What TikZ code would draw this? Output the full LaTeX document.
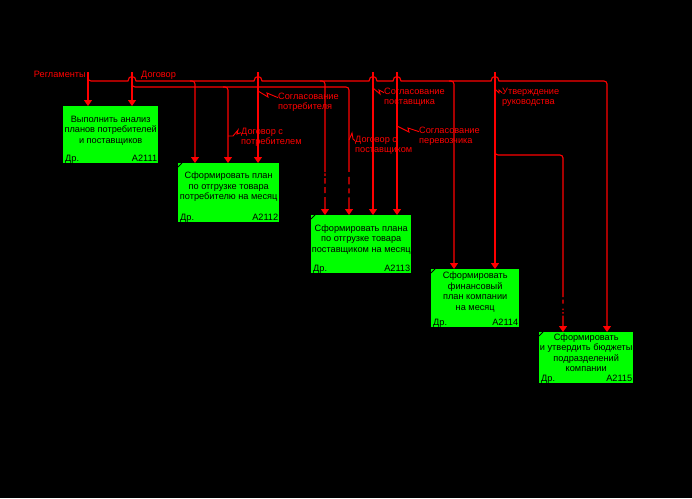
\documentclass[tikz,border=0pt]{standalone}
\usepackage{fontspec}
\setmainfont{Liberation Sans}
\usepackage{tikz}
\usetikzlibrary{arrows.meta,calc,positioning}
\definecolor{funcgreen}{RGB}{0,255,0}

\begin{document}
\begin{tikzpicture}[x=1pt,y=-1pt,
  func/.style={fill=funcgreen,inner sep=0,anchor=north west},
  ftext/.style={text=black,align=center,inner sep=0,font=\fontsize{9.2}{10.5}\selectfont},
  foot/.style={text=black,inner sep=0,font=\fontsize{9.2}{10.5}\selectfont},
  lbl/.style={text=red,align=left,inner sep=0,font=\fontsize{9.2}{10}\selectfont},
  ctl/.style={draw=red,line width=1.1pt,-{Triangle[width=8pt,length=6pt]}},
  squig/.style={draw=red,line width=0.9pt},
  corner/.style={draw=black,line width=0.8pt}]
\fill[black] (0,0) rectangle (692,498);

\node[func,minimum width=95pt,minimum height=57pt] (b1) at (63,106) {};
\node[func,minimum width=101pt,minimum height=59pt] (b2) at (178,163) {};
\node[func,minimum width=100pt,minimum height=58pt] (b3) at (311,215) {};
\node[func,minimum width=88pt,minimum height=58pt] (b4) at (431,269) {};
\node[func,minimum width=94pt,minimum height=51pt] (b5) at (539,332) {};

\node[ftext] (t1) at ([yshift=4pt]b1.center) {Выполнить анализ\\планов потребителей\\и поставщиков};
\node[ftext] (t2) at ([yshift=6pt]b2.center) {Сформировать план\\по отгрузке товара\\потребителю на месяц};
\node[ftext] (t3) at ([yshift=5pt]b3.center) {Сформировать плана\\по отгрузке товара\\поставщиком на месяц};
\node[ftext] (t4) at ([yshift=6pt]b4.center) {Сформировать\\финансовый\\план компании\\на месяц};
\node[ftext] (t5) at ([yshift=5pt]b5.center) {Сформировать\\и утвердить бюджеты\\подразделений\\компании};

\node[foot,anchor=base west] (d1) at ([shift={(2pt,1.5pt)}]b1.south west) {Др.};
\node[foot,anchor=base east] (n1) at ([shift={(-1pt,1.5pt)}]b1.south east) {A2111};
\node[foot,anchor=base west] (d2) at ([shift={(2pt,1.5pt)}]b2.south west) {Др.};
\node[foot,anchor=base east] (n2) at ([shift={(-1pt,1.5pt)}]b2.south east) {A2112};
\node[foot,anchor=base west] (d3) at ([shift={(2pt,1.5pt)}]b3.south west) {Др.};
\node[foot,anchor=base east] (n3) at ([shift={(-1pt,1.5pt)}]b3.south east) {A2113};
\node[foot,anchor=base west] (d4) at ([shift={(2pt,1.5pt)}]b4.south west) {Др.};
\node[foot,anchor=base east] (n4) at ([shift={(-1pt,1.5pt)}]b4.south east) {A2114};
\node[foot,anchor=base west] (d5) at ([shift={(2pt,1.5pt)}]b5.south west) {Др.};
\node[foot,anchor=base east] (n5) at ([shift={(-1pt,1.5pt)}]b5.south east) {A2115};

\draw[corner] ([yshift=-4pt]b2.north west) -- ([xshift=4pt]b2.north west);
\draw[corner] ([yshift=-4pt]b3.north west) -- ([xshift=4pt]b3.north west);
\draw[corner] ([yshift=-4pt]b4.north west) -- ([xshift=4pt]b4.north west);
\draw[corner] ([yshift=-4pt]b5.north west) -- ([xshift=4pt]b5.north west);

\coordinate (reg) at (88,72);
\coordinate (dog) at (132,72);
\coordinate (sogpotr) at (258,72);
\coordinate (sogpost) at (373,72);
\coordinate (sogper) at (397,72);
\coordinate (utv) at (495,72);
\coordinate (regA) at (195,81);
\coordinate (regB) at (325,81);
\coordinate (regC) at (454,81);
\coordinate (dogA) at (228,87);
\coordinate (dogB) at (349,87);
\coordinate (utvA) at (563,155);

\node[lbl,anchor=east] (lreg) at (86,74) {Регламенты};
\node[lbl,anchor=west] (ldog) at (141,75) {Договор};
\node[lbl,anchor=west] (lsogpotr) at (278,102) {Согласование\\потребителя};
\node[lbl,anchor=west] (ldogpotr) at (241,137) {Договор с\\потребителем};
\node[lbl,anchor=west] (ldogpost) at (355,145) {Договор с\\поставщиком};
\node[lbl,anchor=west] (lsogpost) at (384,97) {Согласование\\поставщика};
\node[lbl,anchor=west] (lsogper) at (419,136) {Согласование\\перевозчика};
\node[lbl,anchor=west] (lutv) at (502,97) {Утверждение\\руководства};

\draw[ctl] (reg) -- (reg |- b1.north);
\draw[ctl] (dog) -- (dog |- b1.north);
\draw[ctl] (sogpotr) -- (sogpotr |- b2.north);
\draw[ctl] (sogpost) -- (sogpost |- b3.north);
\draw[ctl] (sogper) -- (sogper |- b3.north);
\draw[ctl] (utv) -- (utv |- b4.north);

\draw[ctl] (reg) [rounded corners=3pt] |- (124,81) [sharp corners] -- (128,81)
  .. controls (128,75) and (136,75) .. (136,81) -- (254,81)
  .. controls (254,75) and (262,75) .. (262,81) -- (369,81)
  .. controls (369,75) and (377,75) .. (377,81) -- (393,81)
  .. controls (393,75) and (401,75) .. (401,81) -- (491,81)
  .. controls (491,75) and (499,75) .. (499,81) [rounded corners=3pt] -- (607,81) -- (607,0 |- b5.north);
\draw[ctl,rounded corners=3pt] ([xshift=-5pt]regA) -| (regA |- b2.north);
\draw[ctl,rounded corners=3pt,dash pattern=on 94.7pt off 1.3pt on 2.7pt off 2pt on 5.6pt off 3.4pt on 6pt off 4pt on 100pt] ([xshift=-5pt]regB) -| (regB |- b3.north);
\draw[ctl,rounded corners=3pt] ([xshift=-5pt]regC) -| (regC |- b4.north);

\draw[ctl,rounded corners=3pt,dash pattern=on 314pt off 5pt on 7.6pt off 4pt on 5pt off 4pt on 100pt] (dog) |- (dogB) -- (dogB |- b3.north);
\draw[ctl,rounded corners=3pt] ([xshift=-5pt]dogA) -| (dogA |- b2.north);
\draw[ctl,rounded corners=3pt,dash pattern=on 290.4pt off 2.3pt on 4pt off 5pt on 1.7pt off 2pt on 1.5pt off 2pt on 100pt] (utv) |- (utvA) -- (utvA |- b5.north);

\draw[squig] (258,91) -- (268,97) -- (267,93) -- ([yshift=-5pt]lsogpotr.north west);
\draw[squig] (228,136) -- (233,136) -- (238,130) -- (237,134) -- ([yshift=-5pt]ldogpotr.north west);
\draw[squig] (349,140) -- (352,133) -- (353,139) -- ([yshift=-5pt]ldogpost.north west);
\draw[squig] (373,88) -- (380,94) -- (379,90) -- ([yshift=-5pt]lsogpost.north west);
\draw[squig] (397,126) -- (409,132) -- (408,128) -- ([yshift=-5pt]lsogper.north west);
\draw[squig] (495,89) -- (499,93) -- (499,90) -- ([yshift=-5pt]lutv.north west);
\end{tikzpicture}
\end{document}
